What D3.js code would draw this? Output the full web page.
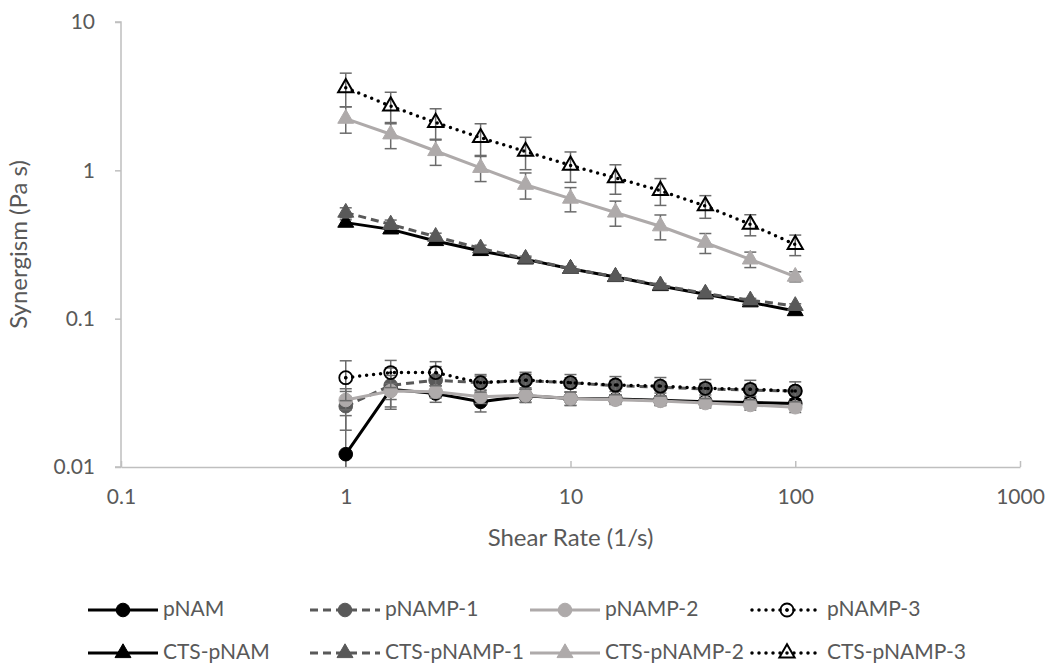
<!DOCTYPE html>
<html><head><meta charset="utf-8">
<script src="https://cdn.jsdelivr.net/npm/d3@7"></script>
<style>
body{margin:0;background:#fff;}
text{font-family:Lato,"Open Sans",sans-serif;fill:#595959;}
</style>
</head><body><svg id="chart" width="1047" height="666"></svg>
<script>
// ---- data ----
const shearRate = [1, 1.585, 2.512, 3.981, 6.310, 10, 15.85, 25.12, 39.81, 63.10, 100];

const pNAM      = [0.0122, 0.0334, 0.0313, 0.0275, 0.0302, 0.0290, 0.0287, 0.0282, 0.0275, 0.0272, 0.0268];
const pNAM_err  = [0.0100, 0.0080, 0.0040, 0.0040, 0.0030, 0.0030, 0.0020, 0.0020, 0.0020, 0.0020, 0.0020];
const pNAMP1     = [0.0257, 0.0355, 0.0385, 0.0370, 0.0382, 0.0370, 0.0353, 0.0345, 0.0336, 0.0330, 0.0325];
const pNAMP1_err = [0.0080, 0.0110, 0.0090, 0.0040, 0.0040, 0.0030, 0.0030, 0.0030, 0.0030, 0.0030, 0.0020];
const pNAMP2     = [0.0283, 0.0325, 0.0322, 0.0298, 0.0304, 0.0290, 0.0284, 0.0279, 0.0270, 0.0262, 0.0253];
const pNAMP2_err = [0.0040, 0.0040, 0.0030, 0.0030, 0.0030, 0.0030, 0.0020, 0.0020, 0.0020, 0.0020, 0.0020];
const pNAMP3     = [0.0400, 0.0433, 0.0433, 0.0370, 0.0385, 0.0370, 0.0357, 0.0351, 0.0339, 0.0334, 0.0325];
const pNAMP3_err = [0.0120, 0.0090, 0.0080, 0.0050, 0.0050, 0.0050, 0.0050, 0.0050, 0.0050, 0.0050, 0.0050];

const ctsPNAM      = [0.444, 0.400, 0.334, 0.286, 0.251, 0.217, 0.191, 0.166, 0.146, 0.129, 0.1125];
const ctsPNAM_err  = [0.020, 0.020, 0.015, 0.010, 0.008, 0.006, 0.005, 0.005, 0.004, 0.004, 0.004];
const ctsPNAMP1     = [0.519, 0.432, 0.357, 0.298, 0.254, 0.217, 0.192, 0.168, 0.148, 0.133, 0.122];
const ctsPNAMP1_err = [0.040, 0.030, 0.020, 0.015, 0.010, 0.008, 0.006, 0.005, 0.005, 0.004, 0.004];
const ctsPNAMP2     = [2.23, 1.75, 1.35, 1.04, 0.80, 0.645, 0.52, 0.42, 0.325, 0.251, 0.192];
const ctsPNAMP2_err = [0.45, 0.35, 0.27, 0.20, 0.16, 0.12, 0.10, 0.08, 0.05, 0.03, 0.015];
const ctsPNAMP3     = [3.60, 2.71, 2.10, 1.66, 1.34, 1.08, 0.89, 0.73, 0.575, 0.432, 0.316];
const ctsPNAMP3_err = [0.92, 0.65, 0.50, 0.40, 0.33, 0.25, 0.20, 0.15, 0.10, 0.07, 0.05];

const seriesNames = ["pNAM","pNAMP-1","pNAMP-2","pNAMP-3","CTS-pNAM","CTS-pNAMP-1","CTS-pNAMP-2","CTS-pNAMP-3"];
const xTickValues = [0.1, 1, 10, 100, 1000];
const xTickLabels = ["0.1", "1", "10", "100", "1000"];
const yTickValues = [0.01, 0.1, 1, 10];
const yTickLabels = ["0.01", "0.1", "1", "10"];
const xTitle = "Shear Rate (1/s)";
const yTitle = "Synergism (Pa s)";

// ---- styles ----
const BLACK = "#000000", DARK = "#595959", LIGHT = "#AEAAAA";
const styles = [
  {color:BLACK, dash:null,  marker:"circle",   fill:BLACK},
  {color:DARK,  dash:"8,5", marker:"circle",   fill:DARK},
  {color:LIGHT, dash:null,  marker:"circle",   fill:LIGHT},
  {color:BLACK, dash:"0,7", marker:"ocircle",  fill:"none"},
  {color:BLACK, dash:null,  marker:"triangle", fill:BLACK},
  {color:DARK,  dash:"8,5", marker:"triangle", fill:DARK},
  {color:LIGHT, dash:null,  marker:"triangle", fill:LIGHT},
  {color:BLACK, dash:"0,7", marker:"otriangle",fill:"none"}
];
const seriesData = [
  [pNAM, pNAM_err], [pNAMP1, pNAMP1_err], [pNAMP2, pNAMP2_err], [pNAMP3, pNAMP3_err],
  [ctsPNAM, ctsPNAM_err], [ctsPNAMP1, ctsPNAMP1_err], [ctsPNAMP2, ctsPNAMP2_err], [ctsPNAMP3, ctsPNAMP3_err]
];

const svg = d3.select("#chart");
const L = 121, R = 1020, T = 22, B = 467;
const x = d3.scaleLog().domain([0.1, 1000]).range([L, R]);
const y = d3.scaleLog().domain([0.01, 10]).range([B, T]);

svg.append("defs").append("clipPath").attr("id","plotclip")
  .append("rect").attr("x", L - 10).attr("y", T - 10).attr("width", R - L + 20).attr("height", B - T + 10);

// axes
const AXC = "#BFBFBF";
const gy = svg.append("g").attr("transform", `translate(${L},0)`)
  .call(d3.axisLeft(y).tickValues(yTickValues).tickFormat((d,i)=>yTickLabels[i]).tickSize(6).tickPadding(20));
const gx = svg.append("g").attr("transform", `translate(0,${B})`)
  .call(d3.axisBottom(x).tickValues(xTickValues).tickFormat((d,i)=>xTickLabels[i]).tickSizeInner(-6).tickSizeOuter(0).tickPadding(22));
[gy, gx].forEach(g => {
  g.select(".domain").attr("stroke", AXC).attr("stroke-width", 1.5);
  g.selectAll(".tick line").attr("stroke", AXC).attr("stroke-width", 1.5);
  g.selectAll(".tick text").attr("fill", "#595959").style("font-size", "21px").attr("font-family", null);
});
gy.select(".domain").attr("d", `M-6,${T}H0V${B}H-6`);
gx.selectAll(".tick text").attr("dy", "0.71em");

// titles
svg.append("text").attr("x", (L + R) / 2).attr("y", 540).attr("text-anchor", "middle")
  .attr("dominant-baseline", "middle").style("font-size", "24px").text(xTitle);
svg.append("text").attr("transform", `translate(21,${(T + B) / 2}) rotate(-90)`).attr("text-anchor", "middle")
  .attr("dominant-baseline", "middle").style("font-size", "24px").text(yTitle);

function drawMarker(g, type, st, cx, cy) {
  if (type === "circle") {
    g.append("circle").attr("cx", cx).attr("cy", cy).attr("r", 6.8).attr("fill", st.fill).attr("stroke", st.fill);
  } else if (type === "ocircle") {
    g.append("circle").attr("cx", cx).attr("cy", cy).attr("r", 6.5).attr("fill", "none").attr("stroke", BLACK).attr("stroke-width", 1.8);
    g.append("circle").attr("cx", cx).attr("cy", cy).attr("r", 1.7).attr("fill", BLACK);
  } else if (type === "triangle") {
    g.append("path").attr("d", d3.symbol(d3.symbolTriangle, 110)()).attr("transform", `translate(${cx},${cy})`)
      .attr("fill", st.fill).attr("stroke", st.fill);
  } else {
    g.append("path").attr("d", d3.symbol(d3.symbolTriangle, 100)()).attr("transform", `translate(${cx},${cy})`)
      .attr("fill", "none").attr("stroke", BLACK).attr("stroke-width", 2);
  }
}

const plot = svg.append("g");
const line = d3.line().x(d => x(d[0])).y(d => y(d[1]));
seriesData.forEach(([vals, errs], si) => {
  const st = styles[si];
  const g = plot.append("g");
  // error bars
  const eg = g.append("g").attr("clip-path", "url(#plotclip)");
  vals.forEach((v, i) => {
    const cx = x(shearRate[i]);
    const yTop = y(v + errs[i]);
    const low = v - errs[i];
    const yBot = low > 0 ? Math.min(y(low), B) : B;
    eg.append("line").attr("x1", cx).attr("x2", cx).attr("y1", yTop).attr("y2", yBot)
      .attr("stroke", "#6B6B6B").attr("stroke-width", 1.5);
    eg.append("line").attr("x1", cx - 6).attr("x2", cx + 6).attr("y1", yTop).attr("y2", yTop)
      .attr("stroke", "#6B6B6B").attr("stroke-width", 1.5);
    if (low > 0 && y(low) < B) {
      eg.append("line").attr("x1", cx - 6).attr("x2", cx + 6).attr("y1", y(low)).attr("y2", y(low))
        .attr("stroke", "#6B6B6B").attr("stroke-width", 1.5);
    }
  });
  const pts = vals.map((v, i) => [shearRate[i], v]);
  g.append("path").attr("d", line(pts)).attr("fill", "none").attr("stroke", st.color)
    .attr("stroke-width", st.dash === "0,7" ? 3.5 : 3)
    .attr("stroke-dasharray", st.dash).attr("stroke-linecap", st.dash === "0,7" ? "round" : "butt");
  pts.forEach(p => drawMarker(g, st.marker, st, x(p[0]), y(p[1])));
});

// legend
const colX = [88, 310, 530, 752];
const rowY = [610, 653];
seriesNames.forEach((name, i) => {
  const st = styles[i];
  const lx = colX[i % 4], ly = rowY[Math.floor(i / 4)];
  const g = svg.append("g");
  g.append("line").attr("x1", lx).attr("x2", lx + 70).attr("y1", ly).attr("y2", ly)
    .attr("stroke", st.color).attr("stroke-width", st.dash === "0,7" ? 3.5 : 3)
    .attr("stroke-dasharray", st.dash).attr("stroke-linecap", st.dash === "0,7" ? "round" : "butt");
  drawMarker(g, st.marker, st, lx + 35, ly);
  g.append("text").attr("x", lx + 75).attr("y", ly + 1).attr("dominant-baseline", "middle")
    .style("font-size", "21px").text(name);
});
</script>
</body></html>
